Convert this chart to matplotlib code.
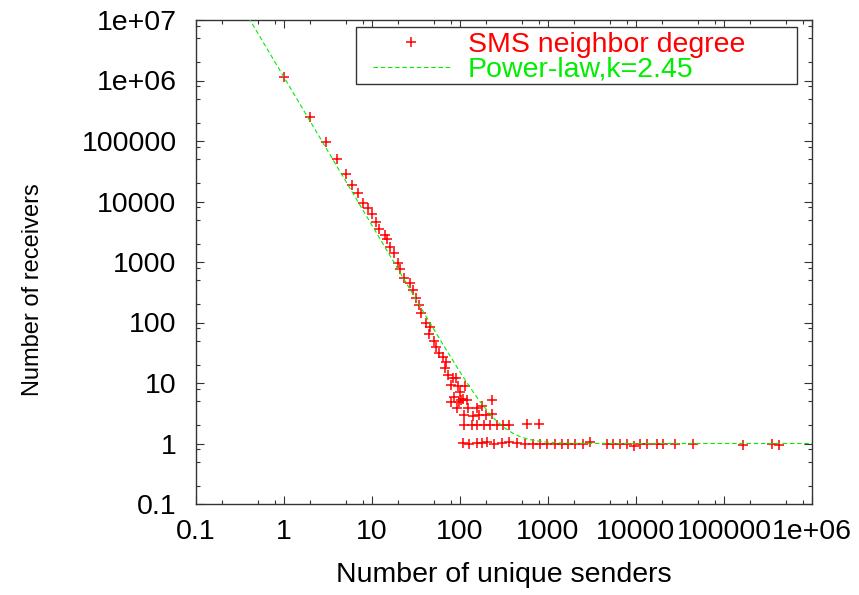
import numpy as np
import matplotlib
matplotlib.use("Agg")
import matplotlib.pyplot as plt
from matplotlib.patches import Rectangle
from matplotlib.ticker import FixedLocator, FixedFormatter, NullFormatter

plt.rcParams['font.family'] = ['Liberation Sans', 'DejaVu Sans']

# SMS neighbor degree
senders = [1, 2, 3, 4, 5, 6, 7, 8, 9, 10, 11, 12, 14, 15, 16, 18, 20, 21, 23, 27,
           29, 32, 34, 36, 41, 46, 44, 50, 54, 58, 64, 69, 68, 74, 90, 84, 79, 96,
           114, 100, 86, 109, 104, 121, 80, 98, 93, 124, 155, 176, 229, 112, 142,
           166, 196, 234,
           # receivers == 2
           112, 136, 155, 187, 219, 261, 310, 363, 573, 796,
           # receivers == 1
           107, 128, 155, 177, 204, 245, 298, 363, 441, 548, 681, 811, 982, 1202,
           1431, 1702, 2027, 2479, 3000, 4647, 5523, 6579, 7838, 9490, 11100,
           13430, 17170, 20100, 27740, 44780, 163300, 348500, 425000]
receivers = [1.13e6, 2.47e5, 9.7e4, 4.98e4, 2.88e4, 1.87e4, 1.37e4, 9.5e3, 7.7e3,
             6.1e3, 4.5e3, 3.5e3, 2.8e3, 2.37e3, 1.75e3, 1.39e3, 976, 757, 538, 445,
             344, 251, 194, 145, 100, 85, 64, 50, 40, 31, 27, 22.5, 17.5, 13.5, 12.2,
             12, 9.3, 9, 9, 7.2, 5.9, 5.5, 5.2, 5.2, 4.9, 4.9, 3.8, 3.9, 3.9, 4.2,
             5.2, 3, 2.9, 3, 3, 3.1,
             2, 2, 2, 2, 2, 2, 2, 2, 2.1, 2.1,
             1.02, 0.97, 1.02, 1.02, 1.04, 0.97, 1.02, 1.04, 1.02, 1, 1, 1, 1, 1,
             1, 1, 1, 1, 1.07, 1, 1, 1, 0.97, 0.91, 1, 1, 1, 1, 0.97, 0.97, 0.93,
             1, 0.93]

# power-law fit from the legend: amp * x^-k + 1
fit_k = 2.45
fit_amp = 1.13e6
fit_floor = 1.0

x_ticks = [0.1, 1, 10, 100, 1000, 1e4, 1e5, 1e6]
x_tick_labels = ['0.1', '1', '10', '100', '1000', '10000', '100000', '1e+06']
y_ticks = [0.1, 1, 10, 100, 1000, 1e4, 1e5, 1e6, 1e7]
y_tick_labels = ['0.1', '1', '10', '100', '1000', '10000', '100000', '1e+06', '1e+07']

red = '#ff0000'
green = '#00ee00'
fs = 20.5

fig = plt.figure(figsize=(8.59, 5.95), dpi=100)
ax = fig.add_axes([196 / 859, 1 - 504 / 595, 616 / 859, 484 / 595])

ax.plot(senders, receivers, linestyle='none', marker='+', markersize=6.5,
        markeredgewidth=1.1, color=red, label='SMS neighbor degree', zorder=2)

fit_x = np.logspace(-1, 6, 500)
fit_y = fit_amp * fit_x ** (-fit_k) + fit_floor
ax.plot(fit_x, fit_y, color=green, linewidth=0.8, dashes=(4, 2.5),
        label='Power-law,k=2.45', zorder=3)

ax.set_xscale('log')
ax.set_yscale('log')
ax.set_xlim(0.1, 1e6)
ax.set_ylim(0.1, 1e7)

ax.xaxis.set_major_locator(FixedLocator(x_ticks))
ax.xaxis.set_major_formatter(FixedFormatter(x_tick_labels))
ax.yaxis.set_major_locator(FixedLocator(y_ticks))
ax.yaxis.set_major_formatter(FixedFormatter(y_tick_labels))
x_minor = [d * m for d in x_ticks[:-1] for m in (2, 5, 8)]
y_minor = [d * m for d in y_ticks[:-1] for m in (2, 5, 8)]
ax.xaxis.set_minor_locator(FixedLocator(x_minor))
ax.yaxis.set_minor_locator(FixedLocator(y_minor))
ax.xaxis.set_minor_formatter(NullFormatter())
ax.yaxis.set_minor_formatter(NullFormatter())

ax.tick_params(which='both', direction='in', top=True, right=True, labelsize=fs,
               width=0.8, color='#333333')
ax.tick_params(which='major', length=6)
ax.tick_params(which='minor', length=3)
ax.tick_params(axis='x', pad=11)
ax.tick_params(axis='y', pad=14)
for s in ax.spines.values():
    s.set_linewidth(1.0)
    s.set_color('#333333')

ax.set_xlabel('Number of unique senders', fontsize=fs)
ax.set_ylabel('Number of receivers', fontsize=17)
ax.xaxis.set_label_coords(0.5, -0.12)
ax.yaxis.set_label_coords(-0.246, 0.442)

# legend box drawn separately so the entries can sit where gnuplot put them
ax.add_patch(Rectangle((0.259, 0.868), 0.7165, 0.117, transform=ax.transAxes,
                       facecolor='white', edgecolor='#333333', linewidth=1.0,
                       zorder=4))
leg = ax.legend(loc='upper left', bbox_to_anchor=(0.2873, 0.975),
                borderaxespad=0, borderpad=0, fontsize=fs, numpoints=1,
                handlelength=2.7, handletextpad=0.63, labelspacing=-0.04,
                frameon=False)
leg.set_zorder(5)
for txt, col in zip(leg.get_texts(), [red, green]):
    txt.set_color(col)

fig.savefig('out.png', dpi=100)
